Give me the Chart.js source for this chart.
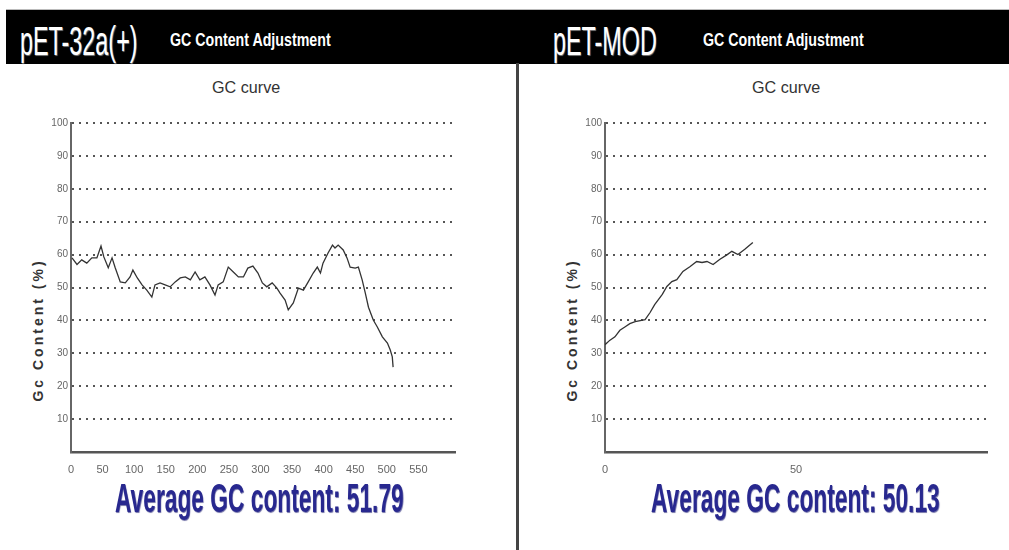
<!DOCTYPE html>
<html lang="en">
  <head>
    <meta charset="UTF-8" />
    <title>GC Content Adjustment</title>
    <style>
      body {
        margin: 0;
        width: 1009px;
        height: 550px;
        background: #fff;
        position: relative;
        overflow: hidden;
        font-family: "Liberation Sans", Arial, sans-serif;
      }
      .bar {
        position: absolute;
        left: 6px;
        top: 9px;
        width: 1003px;
        height: 54px;
        background: #000;
        border-top: 1px solid #bbb;
      }
      .txt {
        position: absolute;
        white-space: nowrap;
        display: inline-block;
        transform-origin: 0 0;
      }
      .big {
        font-size: 41px;
        line-height: 41px;
        color: #fff;
        text-shadow: 1px 1px 1px #777;
        transform: scaleX(0.57);
      }
      .sub {
        font-size: 18px;
        line-height: 18px;
        font-weight: bold;
        color: #fff;
        transform: scaleX(0.79);
      }
      .curve {
        font-size: 17px;
        line-height: 17px;
        color: #333;
        transform: scaleX(0.95);
      }
      .avg {
        font-size: 41px;
        line-height: 41px;
        font-weight: bold;
        color: #28288f;
        text-shadow: 1px 1px 1px #7777aa;
        transform: scaleX(0.555);
      }
      .ytitle {
        font-size: 14px;
        line-height: 14px;
        font-weight: bold;
        color: #333;
        letter-spacing: 3px;
        transform: rotate(-90deg);
        transform-origin: center;
        width: 170px;
        text-align: center;
      }
      .divider {
        position: absolute;
        left: 516px;
        top: 63px;
        width: 3px;
        height: 487px;
        background: #444;
      }
      .chart-box {
        position: absolute;
        top: 110px;
        width: 445px;
        height: 370px;
      }
    </style>
  </head>
  <body>
    <div class="bar"></div>
    <span class="txt big" style="left: 20px; top: 21px">pET-32a(+)</span>
    <span class="txt sub" style="left: 170px; top: 31px">GC Content Adjustment</span>
    <span class="txt big" style="left: 553px; top: 21px">pET-MOD</span>
    <span class="txt sub" style="left: 703px; top: 31px">GC Content Adjustment</span>
    <div class="divider"></div>

    <span class="txt curve" style="left: 212px; top: 79px">GC curve</span>
    <span class="txt curve" style="left: 752px; top: 79px">GC curve</span>

    <span class="txt ytitle" style="left: -47px; top: 323px">Gc Content (%)</span>
    <span class="txt ytitle" style="left: 487px; top: 323px">Gc Content (%)</span>

    <div class="chart-box" style="left: 20px"><canvas id="leftChart"></canvas></div>
    <div class="chart-box" style="left: 555px"><canvas id="rightChart"></canvas></div>

    <span class="txt avg" style="left: 115px; top: 478px">Average GC content: 51.79</span>
    <span class="txt avg" style="left: 651px; top: 478px">Average GC content: 50.13</span>

    <script src="https://cdn.jsdelivr.net/npm/chart.js"></script>
    <script>
      // pET-32a(+) GC curve
      const leftPos = [
        1.6, 9.5, 17, 25, 33, 41, 47.5, 52, 59, 65, 70, 78, 86, 93.5, 98, 105,
        112.5, 120, 128, 133, 141, 149, 157, 165, 173, 181, 189, 196.5, 204,
        212, 220, 228, 233, 241, 249, 257, 265, 273, 280, 288, 296, 303, 310,
        318.5, 326, 331, 339, 344, 352, 360, 368, 375.6, 383.5, 390, 395, 399,
        407, 414, 418, 423, 431, 437, 442, 450, 455, 461, 466, 471, 478.6, 485,
        493, 501, 505.5, 508.7, 510,
      ];
      const leftGc = [
        59, 57, 58.4, 57.4, 59, 59, 62.6, 59.3, 56, 59, 56, 51.7, 51.4, 53.2,
        55.3, 52.9, 50.8, 49.2, 47.1, 50.8, 51.4, 50.8, 50.2, 51.7, 52.9, 53.2,
        52.3, 54.7, 52.3, 53.2, 50.8, 47.7, 50.8, 51.7, 56.2, 54.7, 53.2, 53.2,
        55.9, 56.5, 54.4, 51.4, 50.2, 51.4, 49.8, 48.3, 46.2, 43.2, 45.3, 49.8,
        49.2, 51.7, 54.4, 56.2, 54.4, 57.4, 60.5, 62.9, 62, 62.9, 61.4, 59,
        56.2, 55.9, 56.2, 52.3, 48.3, 44, 40.1, 38, 35, 33.1, 31, 28.9, 25.8,
      ];

      // pET-MOD GC curve
      const rightPos = [
        0, 1.3, 2.6, 3.9, 5.2, 6.5, 7.9, 10.5, 11.8, 13, 15, 16.2, 17.5, 18.8,
        20.4, 22.3, 24, 25.4, 26.7, 28.3, 30, 32, 33.2, 34.8, 36.6, 38.7,
      ];
      const rightGc = [
        32.6, 34, 35, 37, 38, 39, 39.6, 40.2, 42.4, 44.8, 47.9, 50.3, 51.8,
        52.4, 54.9, 56.4, 57.9, 57.6, 57.9, 57, 58.5, 60, 61, 60, 61.6, 63.7,
      ];

      const yTicks = [0, 10, 20, 30, 40, 50, 60, 70, 80, 90, 100];

      function makeChart(id, xs, ys, xMax, xStep, lastLabel, yWidth, padRight) {
        const points = xs.map((x, i) => ({ x: x, y: ys[i] }));
        return new Chart(document.getElementById(id), {
          type: "line",
          data: {
            datasets: [
              {
                data: points,
                borderColor: "#333",
                borderWidth: 1.3,
                pointRadius: 0,
                tension: 0,
              },
            ],
          },
          options: {
            responsive: true,
            maintainAspectRatio: false,
            animation: false,
            layout: { padding: { top: 13, right: padRight, left: 0, bottom: 0 } },
            plugins: { legend: { display: false }, tooltip: { enabled: false } },
            scales: {
              x: {
                type: "linear",
                min: 0,
                max: xMax,
                afterFit: (s) => { s.height = 28; },
                ticks: {
                  stepSize: xStep,
                  includeBounds: false,
                  color: "#666",
                  font: { family: "Liberation Sans", size: 11 },
                  padding: 3,
                  maxRotation: 0,
                  callback: (v) => (v <= lastLabel ? v : ""),
                },
                grid: { display: false },
                border: { display: true, color: "#555", width: 2.5 },
              },
              y: {
                min: 0,
                max: 100,
                afterFit: (s) => { s.width = yWidth; },
                afterBuildTicks: (s) => {
                  s.ticks = yTicks.map((v) => ({ value: v }));
                },
                ticks: {
                  color: "#666",
                  font: { family: "Liberation Sans", size: 10 },
                  padding: 3,
                  callback: (v) => (v === 0 ? "" : v),
                },
                grid: {
                  drawTicks: false,
                  color: (c) => (c.tick && c.tick.value === 0 ? "rgba(0,0,0,0)" : "#555"),
                  lineWidth: 2,
                },
                // in v4 border.dash styles the grid lines -> dotted rows
                border: { display: true, color: "#666", width: 2, dash: [2, 5] },
              },
            },
          },
        });
      }

      makeChart("leftChart", leftPos, leftGc, 608, 50, 550, 51, 10);
      makeChart("rightChart", rightPos, rightGc, 100, 50, 50, 50, 13);
    </script>
  </body>
</html>
